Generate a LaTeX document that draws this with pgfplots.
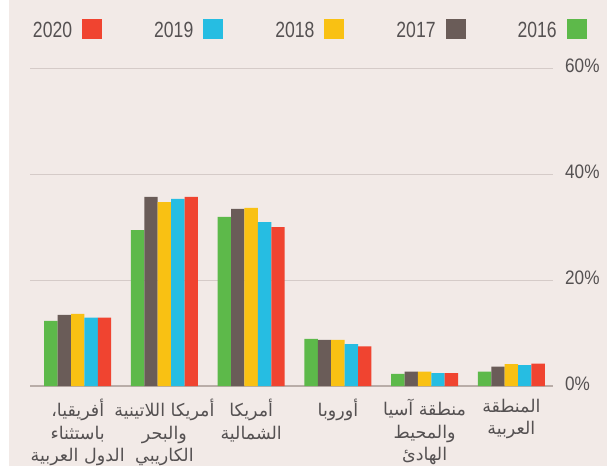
\documentclass[border=0pt]{standalone}
\usepackage{pgfplots}
\pgfplotsset{compat=1.18}
\usepackage{fontspec}
\setmainfont{Liberation Sans}
\newfontfamily\legfont[FakeStretch=0.8]{Liberation Sans}
\newfontfamily\tickfont[FakeStretch=0.88]{Liberation Sans}
\newfontfamily\arabicfont[Script=Arabic]{DejaVu Sans}
\TeXXeTstate=1
\definecolor{c20}{HTML}{F04430}
\definecolor{c19}{HTML}{26BDE2}
\definecolor{c18}{HTML}{F9C113}
\definecolor{c17}{HTML}{6A5C58}
\definecolor{c16}{HTML}{5DB94A}
\definecolor{bgc}{HTML}{F2EAE7}
\definecolor{txt}{HTML}{555152}
\definecolor{gridc}{HTML}{D5CBC8}
\definecolor{axc}{HTML}{B9ADA8}
\pgfplotsset{sqleg/.style={legend image code/.code={\fill[##1] (0pt,-8pt) rectangle (20pt,12pt);}}}
\begin{document}
\begin{tikzpicture}[x=1pt,y=1pt]
\fill[bgc] (9,0) rectangle (607,466);
\begin{axis}[
  at={(30pt,80pt)}, anchor=south west,
  scale only axis, width=523pt, height=318pt,
  xmin=-0.55, xmax=5.48, ymin=0, ymax=60,
  ybar=0pt, bar width=13.4pt,
  axis x line*=bottom, axis y line*=right,
  x axis line style={draw=axc, line width=1.6pt},
  y axis line style={draw=none},
  ytick={0,20,40,60},
  ymajorgrids, grid style={gridc, line width=0.9pt},
  major tick length=0pt,
  xtick={0,1,2,3,4,5},
  xticklabels={
    {\beginR أفريقيا،\endR\\\beginR باستثناء\endR\\\beginR الدول العربية\endR},
    {\beginR أمريكا اللاتينية\endR\\\beginR والبحر\endR\\\beginR الكاريبي\endR},
    {\beginR أمريكا\endR\\\beginR الشمالية\endR},
    {\beginR أوروبا\endR},
    {\beginR منطقة آسيا\endR\\\beginR والمحيط\endR\\\beginR الهادئ\endR},
    {\beginR المنطقة\endR\\\beginR العربية\endR}},
  xticklabel style={align=center, font=\arabicfont\fontsize{17.5}{22.5}\selectfont, text=txt, anchor=north, inner sep=0pt, yshift=-13pt},
  /pgf/number format/assume math mode=true,
  yticklabel={\pgfmathprintnumber{\tick}\%},
  yticklabel style={font=\tickfont\fontsize{19.5}{20}\selectfont, text=txt, anchor=west, inner sep=0pt, xshift=12pt, yshift=2.5pt},
  legend columns=5, reverse legend, legend plot pos=right,
  legend style={at={(0,1)}, anchor=south west, xshift=3pt, yshift=29pt, draw=none, fill=none, inner sep=0pt, outer sep=0pt,
    nodes={inner sep=0pt, font=\legfont\fontsize{22}{22}\selectfont, text=txt},
    /tikz/every odd column/.append style={column sep=10pt},
    /tikz/every even column/.append style={column sep=52pt}},
]
\addplot[fill=c16, draw=none, sqleg] coordinates {(0,12.3) (1,29.4) (2,31.9) (3,8.9) (4,2.3) (5,2.7)};
\addlegendentry{2016}
\addplot[fill=c17, draw=none, sqleg] coordinates {(0,13.4) (1,35.7) (2,33.4) (3,8.7) (4,2.7) (5,3.65)};
\addlegendentry{2017}
\addplot[fill=c18, draw=none, sqleg] coordinates {(0,13.6) (1,34.7) (2,33.6) (3,8.7) (4,2.7) (5,4.15)};
\addlegendentry{2018}
\addplot[fill=c19, draw=none, sqleg] coordinates {(0,12.9) (1,35.3) (2,30.9) (3,7.9) (4,2.45) (5,3.95)};
\addlegendentry{2019}
\addplot[fill=c20, draw=none, sqleg] coordinates {(0,12.9) (1,35.7) (2,30.0) (3,7.5) (4,2.45) (5,4.2)};
\addlegendentry{2020}
\end{axis}
\pgfresetboundingbox
\useasboundingbox (0,0) rectangle (607,466);
\end{tikzpicture}
\end{document}
